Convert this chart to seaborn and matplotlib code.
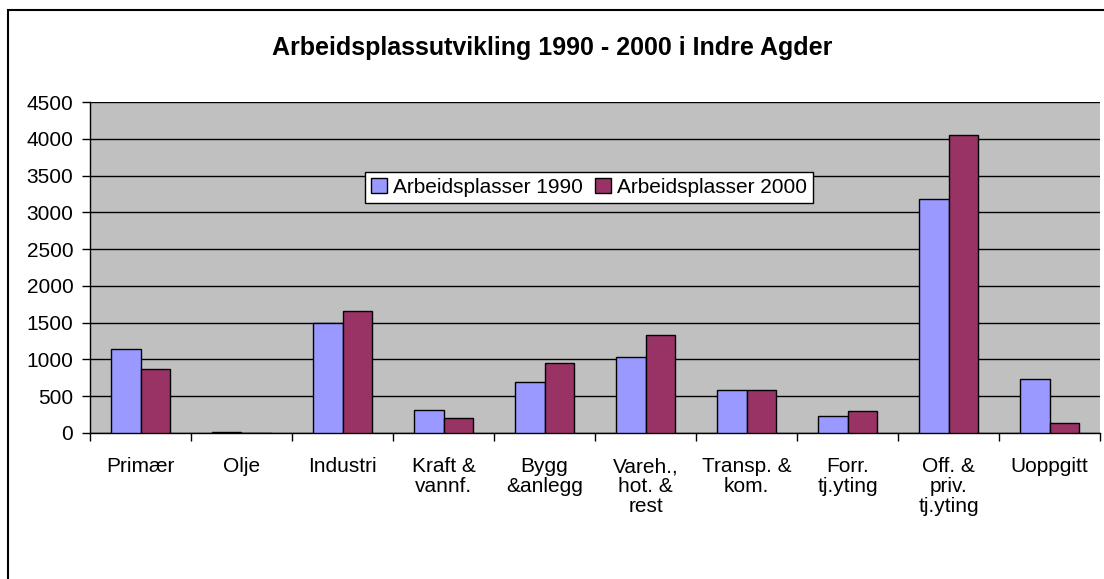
import numpy as np
import pandas as pd
import seaborn as sns
import matplotlib.pyplot as plt
from matplotlib.patches import Rectangle

categories = ["Primær", "Olje", "Industri", "Kraft &\nvannf.", "Bygg\n&anlegg",
              "Vareh.,\nhot. &\nrest", "Transp. &\nkom.", "Forr.\ntj.yting",
              "Off. &\npriv.\ntj.yting", "Uoppgitt"]
jobs_1990 = [1140, 20, 1490, 310, 700, 1030, 590, 230, 3180, 730]
jobs_2000 = [865, 3, 1660, 200, 945, 1330, 586, 293, 4050, 130]
series = ["Arbeidsplasser 1990", "Arbeidsplasser 2000"]

df = pd.DataFrame({
    "kategori": categories * 2,
    "antall": jobs_1990 + jobs_2000,
    "serie": [series[0]] * len(categories) + [series[1]] * len(categories),
})

sns.set_style("white")
plt.rcParams["font.family"] = ["Liberation Sans", "DejaVu Sans"]
plt.rcParams["text.color"] = "black"
plt.rcParams["xtick.color"] = "black"
plt.rcParams["ytick.color"] = "black"

fig = plt.figure(figsize=(11.04, 5.79), dpi=100)
ax = fig.add_axes([90 / 1104, 1 - 433 / 579, 1010 / 1104, 331 / 579])
ax.set_facecolor("#C0C0C0")

sns.barplot(data=df, x="kategori", y="antall", hue="serie",
            palette=["#9999FF", "#993366"], saturation=1, width=0.58, gap=0,
            edgecolor="black", linewidth=1, ax=ax, zorder=3)

ax.set_xlim(-0.5, len(categories) - 0.5)
ax.set_ylim(0, 4500)
ax.set_yticks(np.arange(0, 4501, 500))
ax.yaxis.grid(True, color="black", linewidth=1)
ax.set_axisbelow(True)
ax.set_xlabel("")
ax.set_ylabel("")

for s in ["top", "right"]:
    ax.spines[s].set_visible(False)
for s in ["left", "bottom"]:
    ax.spines[s].set_color("black")
    ax.spines[s].set_linewidth(1)

ax.tick_params(axis="y", left=True, length=6, width=1, color="black",
               labelcolor="black", labelsize=15, pad=6)
ax.tick_params(axis="x", which="major", bottom=False, labelcolor="black",
               labelsize=15, pad=14)
ax.set_xticks(np.arange(-0.5, len(categories) + 0.5), minor=True)
ax.tick_params(axis="x", which="minor", bottom=True, length=6, width=1,
               color="black")
for lbl in ax.get_xticklabels():
    lbl.set_verticalalignment("top")
    lbl.set_multialignment("center")
    lbl.set_linespacing(1.05)

leg = ax.legend(loc="upper left", bbox_to_anchor=(0.272, 0.79), ncol=2,
                fontsize=15, frameon=True, fancybox=False, borderaxespad=0,
                handlelength=0.75, handleheight=0.75, handletextpad=0.3,
                columnspacing=0.6, borderpad=0.3, labelcolor="black")
leg.get_frame().set_edgecolor("black")
leg.get_frame().set_linewidth(1)
leg.get_frame().set_alpha(1)
for h in leg.legend_handles:
    h.set_edgecolor("black")

fig.text(0.5, 1 - 48 / 579, "Arbeidsplassutvikling 1990 - 2000 i Indre Agder",
         ha="center", va="center", fontsize=18, fontweight="bold",
         color="black")

fig.patches.append(Rectangle((8 / 1104, -0.1), 1.2, 1 - 10 / 579 + 0.1,
                             transform=fig.transFigure, fill=False,
                             edgecolor="black", linewidth=1.5))

fig.savefig("out.png", dpi=100)
